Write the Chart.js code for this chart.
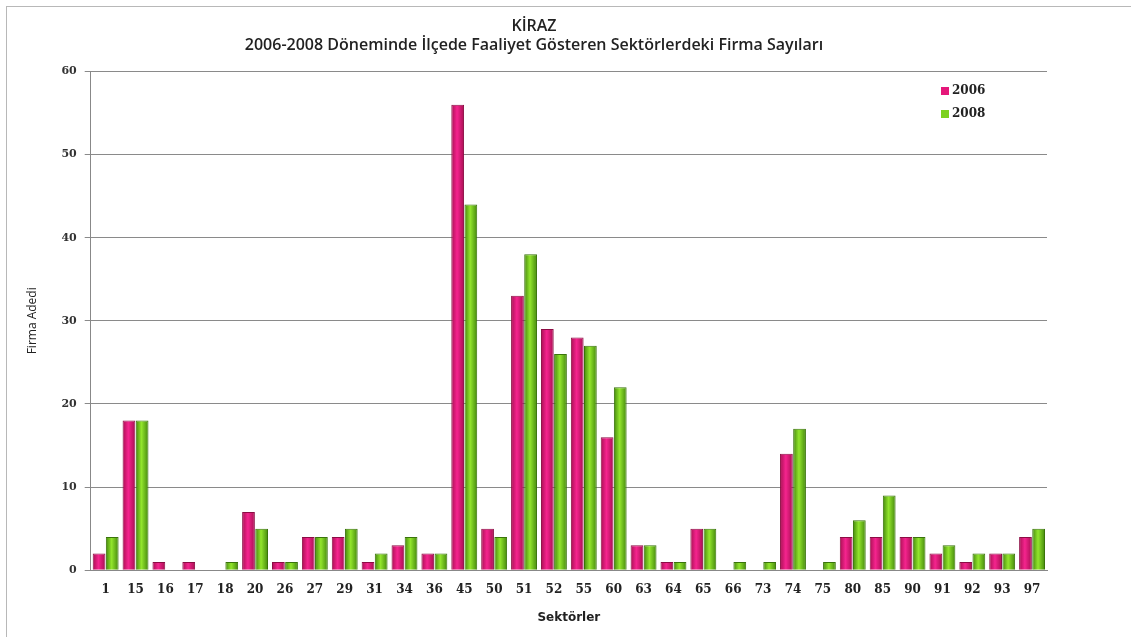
<!DOCTYPE html>
<html>
<head>
<meta charset="utf-8">
<script src="https://cdn.jsdelivr.net/npm/chart.js@4"></script>
<style>
  html, body { margin: 0; padding: 0; background: #fff; }
  #wrap { position: absolute; left: 6px; top: 6px; width: 1125px; height: 631px;
          border: 1px solid #b8b8b8; border-right: none; border-bottom: none; box-sizing: border-box; }
  canvas { display: block; }
</style>
</head>
<body>
<div id="wrap"><canvas id="chart" width="1124" height="630"></canvas></div>
<script>
// Sector codes and firm counts
const sectors = ["1","15","16","17","18","20","26","27","29","31","34","36","45","50","51","52",
                 "55","60","63","64","65","66","73","74","75","80","85","90","91","92","93","97"];
const firms2006 = [2,18,1,1,0,7,1,4,4,1,3,2,56,5,33,29,28,16,3,1,5,0,0,14,0,4,4,4,2,1,2,4];
const firms2008 = [4,18,0,0,1,5,1,4,5,2,4,2,44,4,38,26,27,22,3,1,5,1,1,17,1,6,9,4,3,2,2,5];
const yTicks = [0,10,20,30,40,50,60];

const CAT_PCT = 0.88;
const BAR_PCT = 0.97;

// Horizontal gradient per bar, worked out from the x scale
function barGradient(dark, light) {
  return function (context) {
    const chart = context.chart;
    const xs = chart.scales && chart.scales.x;
    if (!chart.chartArea || !xs || context.dataIndex === undefined) return light;
    const n = chart.data.labels.length;
    const catW = (xs.right - xs.left) / n;
    const slot = catW * CAT_PCT / 2;
    const w = slot * BAR_PCT;
    const cx = xs.getPixelForValue(context.dataIndex) + (context.datasetIndex - 0.5) * slot;
    const g = chart.ctx.createLinearGradient(cx - w / 2, 0, cx + w / 2, 0);
    g.addColorStop(0, dark);
    g.addColorStop(0.45, light);
    g.addColorStop(1, dark);
    return g;
  };
}

// Small legend drawn in top right of the plot area
const legendPlugin = {
  id: "cornerLegend",
  afterDraw(chart) {
    const ctx = chart.ctx;
    const colors = ["#e5177a", "#7cd11f"];
    ctx.save();
    ctx.font = "bold 12px 'DejaVu Serif'";
    ctx.textBaseline = "middle";
    chart.data.datasets.forEach((ds, i) => {
      const x = 934, y = 84 + i * 23;
      ctx.fillStyle = colors[i];
      ctx.fillRect(x, y - 4, 8, 8);
      ctx.fillStyle = "#222";
      ctx.fillText(ds.label, x + 11, y);
    });
    ctx.restore();
  }
};

const ctx = document.getElementById("chart").getContext("2d");
new Chart(ctx, {
  type: "bar",
  data: {
    labels: sectors,
    datasets: [
      {
        label: "2006",
        data: firms2006,
        backgroundColor: barGradient("#a80f52", "#f5248e"),
        borderColor: "#8c0c44",
        borderWidth: 1,
        barPercentage: BAR_PCT,
        categoryPercentage: CAT_PCT
      },
      {
        label: "2008",
        data: firms2008,
        backgroundColor: barGradient("#44880c", "#92e52c"),
        borderColor: "#3a740a",
        borderWidth: 1,
        barPercentage: BAR_PCT,
        categoryPercentage: CAT_PCT
      }
    ]
  },
  options: {
    responsive: false,
    animation: false,
    layout: { padding: { left: 14, right: 84, top: 4, bottom: 8 } },
    plugins: {
      legend: { display: false },
      tooltip: { enabled: false },
      title: {
        display: true,
        text: ["KİRAZ", "2006-2008 Döneminde İlçede Faaliyet Gösteren Sektörlerdeki Firma Sayıları"],
        font: { family: "Open Sans", size: 16, weight: "600" },
        color: "#222",
        padding: { top: 6, bottom: 16 },
        lineHeight: 1.5
      }
    },
    scales: {
      x: {
        grid: { display: false, drawTicks: false },
        border: { color: "#888" },
        ticks: {
          color: "#222",
          font: { family: "DejaVu Serif", size: 12, weight: "bold" },
          padding: 12,
          maxRotation: 0,
          autoSkip: false
        },
        title: {
          display: true,
          text: "Sektörler",
          color: "#222",
          font: { family: "DejaVu Sans", size: 12, weight: "bold" },
          padding: { top: 2 }
        }
      },
      y: {
        min: 0,
        max: 60,
        afterBuildTicks(axis) { axis.ticks = yTicks.map(v => ({ value: v })); },
        grid: { color: "#8a8a8a", tickLength: 6, drawTicks: true },
        border: { color: "#888" },
        ticks: {
          color: "#333",
          font: { family: "DejaVu Serif", size: 11, weight: "bold" },
          padding: 8
        },
        title: {
          display: true,
          text: "Firma Adedi",
          color: "#222",
          font: { family: "Open Sans", size: 12 },
          padding: { bottom: 14 }
        }
      }
    }
  },
  plugins: [legendPlugin]
});
</script>
</body>
</html>
